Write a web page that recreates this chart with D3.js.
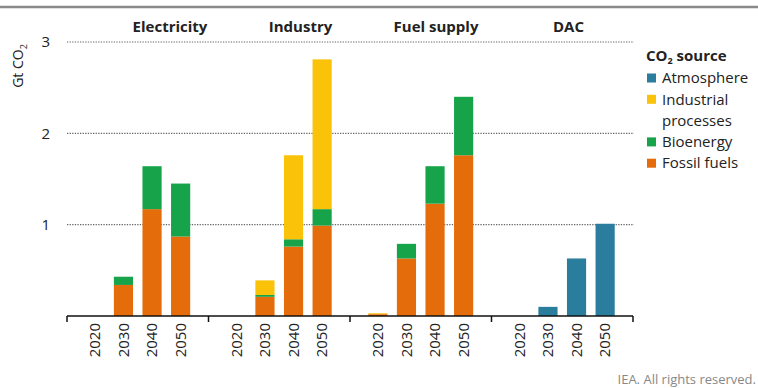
<!DOCTYPE html>
<html>
<head>
<meta charset="utf-8">
<script src="https://cdn.jsdelivr.net/npm/d3@7"></script>
<style>
  body { margin: 0; background: #fff; }
  text { font-family: "Open Sans", sans-serif; fill: #222; }
</style>
</head>
<body>
<div id="chart"></div>
<script>
// data (Gt CO2)
var sectors = ["Electricity", "Industry", "Fuel supply", "DAC"];
var years = ["2020", "2030", "2040", "2050"];
var fossil     = [[0, 0.34, 1.17, 0.87], [0, 0.21, 0.76, 0.99], [0.02, 0.63, 1.23, 1.76], [0, 0, 0, 0]];
var bioenergy  = [[0, 0.09, 0.47, 0.58], [0, 0.02, 0.08, 0.18], [0, 0.16, 0.41, 0.64], [0, 0, 0, 0]];
var industrial = [[0, 0, 0, 0], [0, 0.16, 0.92, 1.64], [0.01, 0, 0, 0], [0, 0, 0, 0]];
var atmosphere = [[0, 0, 0, 0], [0, 0, 0, 0], [0, 0, 0, 0], [0, 0.10, 0.63, 1.01]];
var yTicks = [1, 2, 3];

var keys = ["fossil", "bioenergy", "industrial", "atmosphere"];
var colors = { fossil: "#e46c0a", bioenergy: "#16a34a", industrial: "#fbc20a", atmosphere: "#2a7d9c" };
var legendItems = [
    { key: "atmosphere", lines: ["Atmosphere"] },
    { key: "industrial", lines: ["Industrial", "processes"] },
    { key: "bioenergy", lines: ["Bioenergy"] },
    { key: "fossil", lines: ["Fossil fuels"] }
];
// header offsets inside each group (headers are not centred in the original)
var headerOffset = [103, 92, 86, 77];

var width = 758, height = 388;

var svg = d3.select("#chart").append("svg")
    .attr("width", width)
    .attr("height", height);

// rows for stacking
var rows = [];
sectors.forEach(function(s, i) {
    years.forEach(function(y, j) {
        rows.push({
            sector: s, year: y,
            fossil: fossil[i][j], bioenergy: bioenergy[i][j],
            industrial: industrial[i][j], atmosphere: atmosphere[i][j]
        });
    });
});

var x0 = d3.scaleBand().domain(sectors).range([67, 633]).padding(0);
var x1 = d3.scaleBand().domain(years).range([0, x0.bandwidth()])
    .paddingInner(0.33).paddingOuter(0.64);
var y = d3.scaleLinear().domain([0, 3]).range([316, 42]);

// top rule
svg.append("line")
    .attr("x1", 0).attr("x2", width)
    .attr("y1", 7).attr("y2", 7)
    .attr("stroke", "#8a8a8a").attr("stroke-width", 2.5);

// gridlines
svg.selectAll("line.grid")
    .data(yTicks)
    .enter().append("line")
    .attr("class", "grid")
    .attr("x1", 67).attr("x2", 634)
    .attr("y1", function(d) { return y(d); })
    .attr("y2", function(d) { return y(d); })
    .attr("stroke", "#666")
    .attr("stroke-width", 1.2)
    .attr("stroke-dasharray", "1.3,1.3");

svg.selectAll("text.ytick")
    .data(yTicks)
    .enter().append("text")
    .attr("class", "ytick")
    .attr("x", 50)
    .attr("y", function(d) { return y(d); })
    .attr("dy", "0.35em")
    .attr("text-anchor", "end")
    .style("font-size", "15px")
    .text(function(d) { return d; });

// y title
var yt = svg.append("text")
    .attr("transform", "translate(23,66) rotate(-90)")
    .attr("text-anchor", "middle")
    .style("font-size", "14px");
yt.append("tspan").text("Gt CO");
yt.append("tspan").attr("dy", 4).style("font-size", "9px").text("2");

// bars
var series = d3.stack().keys(keys)(rows);

svg.selectAll("g.layer")
    .data(series)
    .enter().append("g")
    .attr("class", "layer")
    .attr("fill", function(d) { return colors[d.key]; })
    .selectAll("rect")
    .data(function(d) { return d; })
    .enter().append("rect")
    .attr("x", function(d) { return x0(d.data.sector) + x1(d.data.year); })
    .attr("width", x1.bandwidth())
    .attr("y", function(d) { return y(d[1]); })
    .attr("height", function(d) { return y(d[0]) - y(d[1]); });

// x axis
svg.append("line")
    .attr("x1", 67).attr("x2", 633)
    .attr("y1", 316).attr("y2", 316)
    .attr("stroke", "#111").attr("stroke-width", 1.5);

var bounds = sectors.map(function(s) { return x0(s); }).concat([x0.range()[1]]);
svg.selectAll("line.gtick")
    .data(bounds)
    .enter().append("line")
    .attr("class", "gtick")
    .attr("x1", function(d) { return d; }).attr("x2", function(d) { return d; })
    .attr("y1", 316).attr("y2", 322)
    .attr("stroke", "#111").attr("stroke-width", 1.5);

svg.selectAll("text.year")
    .data(rows)
    .enter().append("text")
    .attr("class", "year")
    .attr("transform", function(d) {
        var cx = x0(d.sector) + x1(d.year) + x1.bandwidth() / 2;
        return "translate(" + cx + ",323) rotate(-90)";
    })
    .attr("dy", "0.35em")
    .attr("text-anchor", "end")
    .style("font-size", "15px")
    .text(function(d) { return d.year; });

// group headers
svg.selectAll("text.header")
    .data(sectors)
    .enter().append("text")
    .attr("class", "header")
    .attr("x", function(d, i) { return x0(d) + headerOffset[i]; })
    .attr("y", 32)
    .attr("text-anchor", "middle")
    .style("font-size", "15px")
    .style("font-weight", "bold")
    .text(function(d) { return d; });

// legend
var lt = svg.append("text")
    .attr("x", 646).attr("y", 61)
    .style("font-size", "15px")
    .style("font-weight", "bold");
lt.append("tspan").text("CO");
lt.append("tspan").attr("dy", 2.5).style("font-size", "9px").text("2");
lt.append("tspan").attr("dy", -2.5).text(" source");

var rowY = 78;
legendItems.forEach(function(item) {
    svg.append("rect")
        .attr("x", 647).attr("y", rowY - 4.5)
        .attr("width", 9).attr("height", 9)
        .attr("fill", colors[item.key]);
    item.lines.forEach(function(l, k) {
        svg.append("text")
            .attr("x", 662).attr("y", rowY + k * 21)
            .attr("dy", "0.35em")
            .style("font-size", "15px")
            .text(l);
    });
    rowY += item.lines.length * 21.3;
});

// footer
svg.append("text")
    .attr("x", 756).attr("y", 384)
    .attr("text-anchor", "end")
    .style("font-size", "13px")
    .style("fill", "#888")
    .text("IEA. All rights reserved.");
</script>
</body>
</html>
